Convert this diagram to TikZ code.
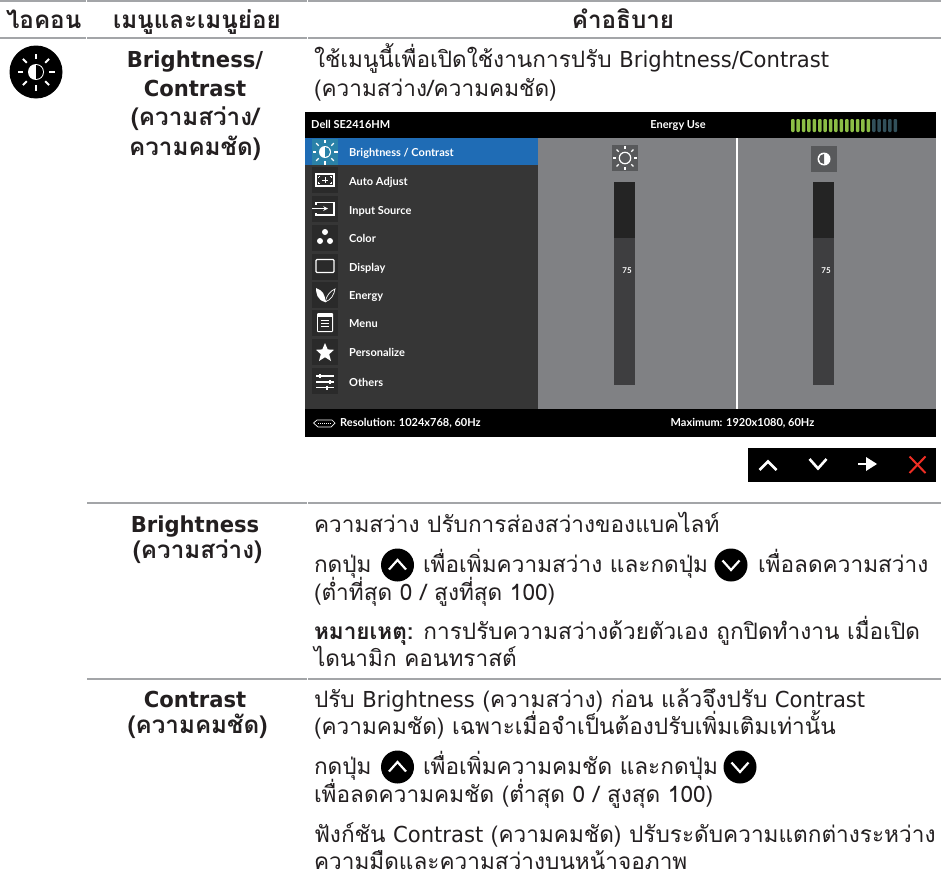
\documentclass[tikz,border=0pt]{standalone}
\usepackage{fontspec}
\setmainfont[Script=Thai]{Loma}
\newfontfamily\lat[FakeStretch=0.96]{DejaVu Sans}
\newfontfamily\ui{Lato}
\definecolor{ink}{HTML}{231F20}
\definecolor{rulegray}{HTML}{A3A5A8}
\definecolor{panel}{HTML}{808184}
\definecolor{menubg}{HTML}{363636}
\definecolor{iconbg}{HTML}{2A2A2A}
\definecolor{selblue}{HTML}{1F6CB5}
\definecolor{selicon}{HTML}{2A82A8}
\definecolor{trackdark}{HTML}{242424}
\definecolor{tracklite}{HTML}{3E3E40}
\definecolor{boxgray}{HTML}{58595B}
\definecolor{closered}{HTML}{EE2E24}
\definecolor{barlit}{HTML}{8CBE46}
\definecolor{barunlit}{HTML}{32505A}
\newcommand{\la}[1]{{\lat\fontsize{22}{26}\selectfont #1}}
\tikzset{
 body/.style={anchor=base west,inner sep=0,outer sep=0,text=ink,font=\fontsize{22.6}{26}\selectfont},
 head/.style={body,font=\fontsize{24.2}{28}\selectfont\bfseries},
 midhead/.style={head,anchor=base},
 tabrule/.style={draw=rulegray,line width=2.4pt},
 menuitem/.style={anchor=base west,inner sep=0,text=white,font=\fontsize{11}{13}\selectfont\ui\bfseries},
 barlabel/.style={anchor=base,inner sep=0,text=white,font=\fontsize{11}{13}\selectfont\ui\bfseries},
 wline/.style={draw=white,line width=1.2pt},
 keyicon/.style={draw=white,line width=2.6pt},
 pressbtn/.style={fill=black},
}
\newcommand{\sunrays}[5]{% cx cy r1 r2 width
 \foreach \a in {0,45,...,315}{\draw[white,line width=#5] ({#1+#3*cos(\a)},{#2+#3*sin(\a)}) -- ({#1+#4*cos(\a)},{#2+#4*sin(\a)});}}
\newcommand{\btnup}[2]{\fill[pressbtn] (#1,#2) circle (16.5);\draw[white,line width=2.2pt] (#1-8.5,#2+4.5) -- (#1,#2-5) -- (#1+8.5,#2+4.5);}
\newcommand{\btndn}[2]{\fill[pressbtn] (#1,#2) circle (16.5);\draw[white,line width=2.2pt] (#1-8.5,#2-4.5) -- (#1,#2+5) -- (#1+8.5,#2-4.5);}
\begin{document}
\begin{tikzpicture}[x=1pt,y=-1pt]
\useasboundingbox (0,0) rectangle (941,878);
\fill[white] (0,0) rectangle (941,878);
% table rules
\foreach \y in {1,38}{
 \draw[tabrule] (0,\y) -- (86,\y);
 \draw[tabrule] (87,\y) -- (307,\y);
 \draw[tabrule] (308,\y) -- (941,\y);}
\draw[tabrule] (87,503) -- (307,503);
\draw[tabrule] (308,503) -- (941,503);
\draw[tabrule] (87,679) -- (307,679);
\draw[tabrule] (308,679) -- (941,679);
% header
\node[head] (hicon) at (6,28) {ไอคอน};
\node[head] (hmenu) at (113,28) {เมนูและเมนูย่อย};
\node[midhead] (hdesc) at (623,28) {คำอธิบาย};
% main icon
\fill[black] (36,72) circle (26.5);
\sunrays{36}{72}{13}{18.5}{1.9pt}
\fill[white] (36,72) circle (8);
\fill[black] (36,72) ++(90:7) arc (90:-90:7) -- cycle;
% left column
\node[midhead] (c1) at (195,67) {\la{Brightness/}};
\node[midhead] (c2) at (195,96) {\la{Contrast}};
\node[midhead] (c3) at (195,125) {(ความสว่าง/};
\node[midhead] (c4) at (195,155) {ความคมชัด)};
\node[body] (d1) at (314,67) {ใช้เมนูนี้เพื่อเปิดใช้งานการปรับ \la{Brightness/Contrast}};
\node[body] (d2) at (314,96) {(ความสว่าง/ความคมชัด)};
% OSD
\fill[black] (305,112) rectangle (936,437);
\fill[menubg] (305,138) rectangle (538,409);
\fill[panel] (538,138) rectangle (936,409);
\fill[selblue] (305,138) rectangle (538,165);
\draw[wline] (737,138) -- (737,409);
\node[menuitem] (otitle) at (311,128) {Dell SE2416HM};
\node[barlabel] (oenergy) at (678,128) {Energy Use};
\foreach \i in {0,...,14}{\fill[barlit,rounded corners=1pt] (791+\i*5.4,119) rectangle (794.5+\i*5.4,132);}
\foreach \i in {15,...,19}{\fill[barunlit,rounded corners=1pt] (791+\i*5.4,119) rectangle (794.5+\i*5.4,132);}
% menu icon boxes
\fill[selicon] (312,139) rectangle (338,165);
\foreach \y in {180,209,238,267,295,323,352,381}{\fill[iconbg] (312,\y-13) rectangle (338,\y+13);}
% brightness icon
\sunrays{325}{152}{9}{12.5}{1.4pt}
\fill[white] (325,152) circle (6);
\fill[selicon] (325,152) ++(90:5) arc (90:-90:5) -- cycle;
% auto adjust
\draw[white,line width=1.1pt] (316,174) rectangle (334,186);
\draw[white,line width=1pt] (322,180) -- (328,180) (325,177) -- (325,183);
\draw[white,line width=.8pt] (318.5,176.5) -- (318.5,178) (318.5,176.5) -- (320,176.5) (331.5,176.5) -- (331.5,178) (331.5,176.5) -- (330,176.5) (318.5,183.5) -- (318.5,182) (318.5,183.5) -- (320,183.5) (331.5,183.5) -- (331.5,182) (331.5,183.5) -- (330,183.5);
% input
\draw[white,line width=1.1pt] (316,205) -- (316,202.5) -- (334,202.5) -- (334,215) -- (316,215) -- (316,212.5);
\draw[white,line width=1.1pt,-stealth] (312,208.5) -- (328,208.5);
% color
\fill[white] (325,232) circle (3) (320,241) circle (3) (330,241) circle (3);
% display
\draw[white,line width=1.1pt,rounded corners=1pt] (316,259.5) rectangle (334,272.5);
% energy leaves
\fill[white] (325,302) .. controls (317,300) and (316,293) .. (316,288) .. controls (322,290) and (326,295) .. (325,302);
\draw[white,line width=.7pt] (325,302) .. controls (327,295) and (330,291) .. (335,289) .. controls (334,295) and (331,300) .. (325,302);
% menu
\fill[white,rounded corners=1pt] (317,313) rectangle (333,332);
\fill[iconbg] (318.3,317) rectangle (331.7,330.7);
\draw[white,line width=.8pt] (321,320.5) -- (329,320.5) (321,323.5) -- (329,323.5) (321,326.5) -- (329,326.5);
% star
\fill[white] (325,343) -- (327.7,349.4) -- (334,349.8) -- (329.2,354.2) -- (331,361) -- (325,357.2) -- (319,361) -- (320.8,354.2) -- (316,349.8) -- (322.3,349.4) -- cycle;
% others
\draw[white,line width=1.1pt] (316,376) -- (334,376) (316,382) -- (334,382) (316,387.5) -- (334,387.5);
\draw[white,line width=1.3pt] (320,374) -- (320,378) (330,380) -- (330,384) (327,385.5) -- (327,389.5);
% menu items
\node[menuitem] (m1) at (349,156) {Brightness / Contrast};
\node[menuitem] (m2) at (349,185) {Auto Adjust};
\node[menuitem] (m3) at (349,214) {Input Source};
\node[menuitem] (m4) at (349,242) {Color};
\node[menuitem] (m5) at (349,271) {Display};
\node[menuitem] (m6) at (349,299) {Energy};
\node[menuitem] (m7) at (349,327) {Menu};
\node[menuitem] (m8) at (349,356) {Personalize};
\node[menuitem] (m9) at (349,386) {Others};
% sliders
\fill[boxgray] (612,145) rectangle (638,171);
\draw[white,line width=1.2pt] (625,158) circle (5.7);
\sunrays{625}{158}{9}{12}{1.2pt}
\fill[boxgray] (811,146) rectangle (837,172);
\fill[white] (824,159) circle (6.5);
\fill[boxgray] (824,159) ++(90:5) arc (90:270:5) -- cycle;
\foreach \x in {614,813}{
 \fill[trackdark] (\x,182) rectangle (\x+21,238);
 \fill[tracklite] (\x,238) rectangle (\x+21,385);}
\node[barlabel,font=\fontsize{8}{10}\selectfont\ui\bfseries] (v1) at (627,273) {75};
\node[barlabel,font=\fontsize{8}{10}\selectfont\ui\bfseries] (v2) at (826,273) {75};
% footer
\draw[white,line width=.7pt,fill=black] (313.5,423) -- (317,420) -- (332,420) -- (335,423) -- (331,427) -- (318,427) -- cycle;
\draw[white,line width=.8pt,dash pattern=on 1pt off 1pt] (318,423.5) -- (331,423.5);
\node[menuitem] (res) at (340,426.5) {Resolution: 1024x768, 60Hz};
\node[barlabel] (maxres) at (742.5,426) {Maximum: 1920x1080, 60Hz};
% key bar
\fill[black] (748,448) rectangle (936,482);
\draw[keyicon] (759.5,470) -- (768,461.5) -- (776.5,470);
\draw[keyicon] (809.5,459) -- (818,468.5) -- (826.5,459);
\draw[white,line width=2.6pt] (858,464) -- (870,464);
\fill[white] (866,457) -- (877,464) -- (866,471) -- cycle;
\draw[closered,line width=2pt] (909.5,456.5) -- (925.5,473) (925.5,456.5) -- (909.5,473);
% brightness row
\node[midhead] (b1) at (195,532) {\la{Brightness}};
\node[midhead] (b2) at (197.5,558) {(ความสว่าง)};
\node[body] (b3) at (314,532) {ความสว่าง ปรับการส่องสว่างของแบคไลท์};
\node[body] (b4) at (314,572) {กดปุ่ม};
\btnup{397.5}{565}
\node[body] (b5) at (423,572) {เพื่อเพิ่มความสว่าง และกดปุ่ม};
\btndn{731}{565}
\node[body] (b6) at (758,572) {เพื่อลดความสว่าง};
\node[body] (b7) at (314,600) {(ต่ำที่สุด 0 / สูงที่สุด 100)};
\node[body] (b8) at (314,639) {\textbf{หมายเหตุ:} การปรับความสว่างด้วยตัวเอง ถูกปิดทำงาน เมื่อเปิด};
\node[body] (b9) at (314,666) {ไดนามิก คอนทราสต์};
% contrast row
\node[midhead] (e1) at (195,707) {\la{Contrast}};
\node[midhead] (e2) at (197.5,733) {(ความคมชัด)};
\node[body] (e3) at (314,707) {ปรับ \la{Brightness} (ความสว่าง) ก่อน แล้วจึงปรับ \la{Contrast}};
\node[body] (e4) at (314,734) {(ความคมชัด) เฉพาะเมื่อจำเป็นต้องปรับเพิ่มเติมเท่านั้น};
\node[body] (e5) at (314,774) {กดปุ่ม};
\btnup{397.5}{767}
\node[body] (e6) at (423,774) {เพื่อเพิ่มความคมชัด และกดปุ่ม};
\btndn{740}{767}
\node[body] (e7) at (314,802) {เพื่อลดความคมชัด (ต่ำสุด 0 / สูงสุด 100)};
\node[body] (e8) at (314,842) {ฟังก์ชัน \la{Contrast} (ความคมชัด) ปรับระดับความแตกต่างระหว่าง};
\node[body] (e9) at (314,869) {ความมืดและความสว่างบนหน้าจอภาพ};
\end{tikzpicture}
\end{document}
